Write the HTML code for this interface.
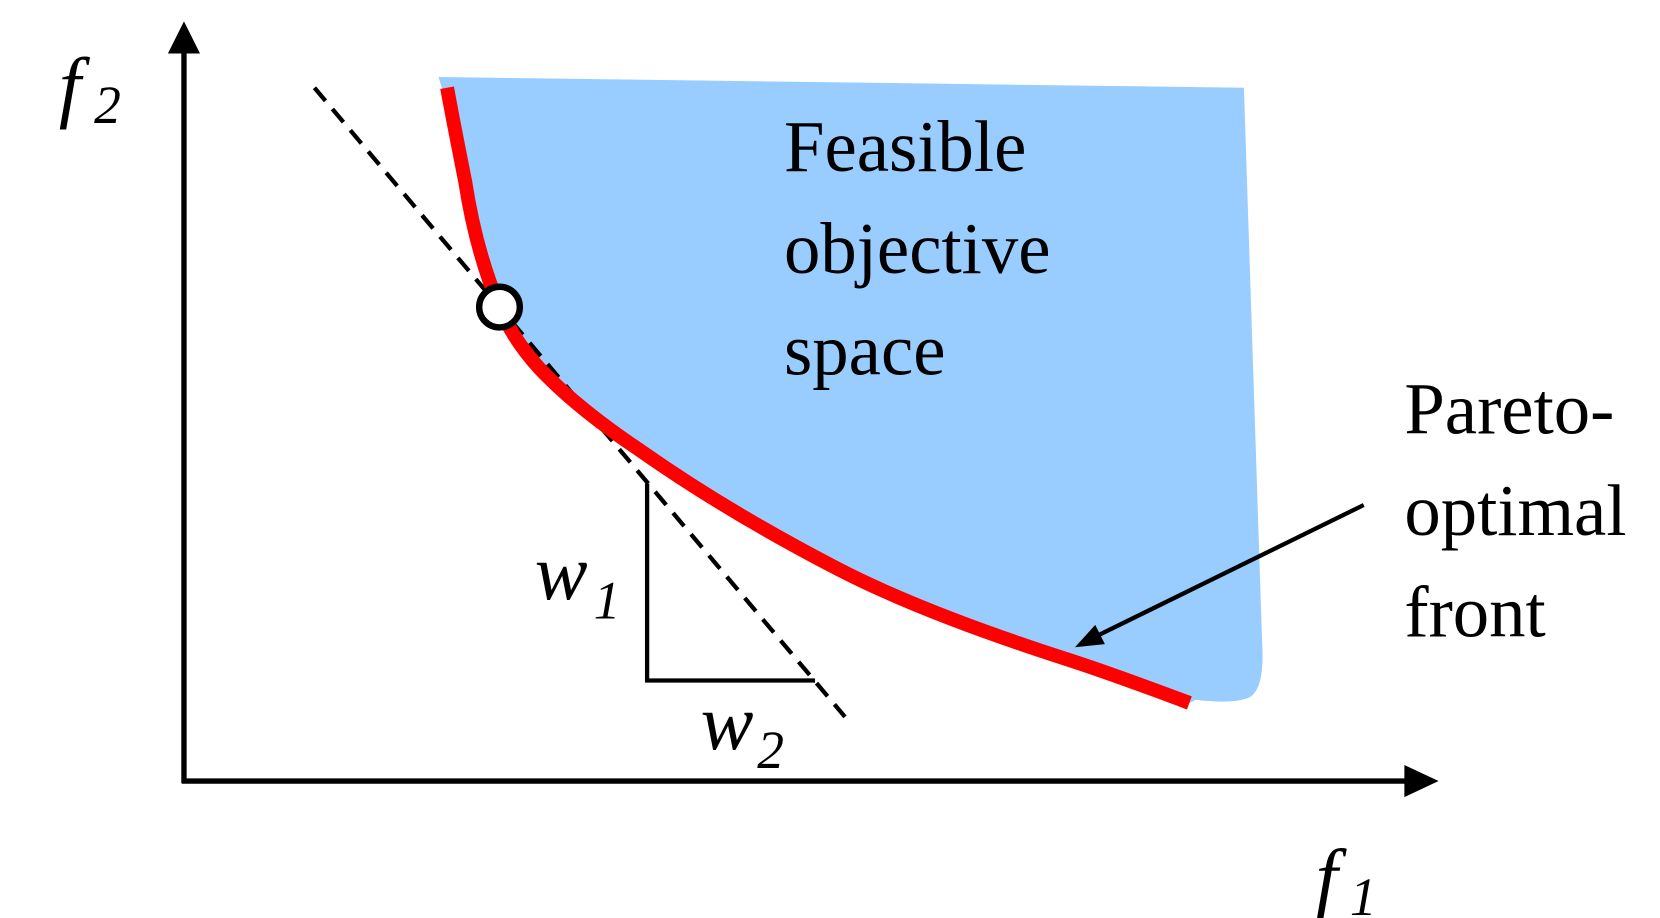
<!DOCTYPE html>
<html><head><meta charset="utf-8"><style>
html,body{margin:0;padding:0;background:#fff;width:1660px;height:918px;overflow:hidden}
svg{display:block}
text{font-family:"Liberation Serif",serif;fill:#000}
</style></head><body>
<svg width="1660" height="918" viewBox="0 0 1552 858" preserveAspectRatio="none" xmlns="http://www.w3.org/2000/svg">
<!-- feasible region -->
<path d="M410,72 L1163,82 L1180,600 Q1183,648 1165,653 Q1150,658 1118,654 L1112,657 Q1040,630 1000,617 Q860,572 780,530 Q680,478 600,422 Q540,382 505,345 Q480,318 467,287 Q445,235 435,170 Q425,120 410,72 z" fill="#99ccff"/>
<!-- dashed line -->
<line x1="294" y1="82" x2="790" y2="670" stroke="#000" stroke-width="4" stroke-dasharray="16,10"/>
<!-- red curve -->
<path d="M418,82 Q425,120 435,170 Q445,235 467,287 Q480,318 505,345 Q540,382 600,422 Q680,478 780,530 Q860,572 1000,617 Q1040,630 1112,657" fill="none" stroke="#ff0000" stroke-width="13"/>
<!-- circle -->
<circle cx="467" cy="287" r="19" fill="#fff" stroke="#000" stroke-width="6"/>
<!-- triangle -->
<path d="M605,452 L605,636 L762,636" fill="none" stroke="#000" stroke-width="4"/>
<!-- axes -->
<line x1="172" y1="732" x2="172" y2="48" stroke="#000" stroke-width="5"/>
<path d="M157,50 L172,20 L187,50 z" fill="#000"/>
<line x1="170" y1="730" x2="1316" y2="730" stroke="#000" stroke-width="5"/>
<path d="M1313,715 L1345,730 L1313,745 z" fill="#000"/>
<!-- pointer arrow -->
<line x1="1275" y1="472" x2="1012" y2="601" stroke="#000" stroke-width="4"/>
<path d="M1005,605 L1024,584 L1033,602 z" fill="#000"/>
<!-- labels -->
<text x="733" y="160" font-size="68">Feasible</text>
<text x="733" y="255" font-size="68">objective</text>
<text x="733" y="350" font-size="68">space</text>
<text x="1313" y="405" font-size="68">Pareto-</text>
<text x="1313" y="500" font-size="68">optimal</text>
<text x="1313" y="595" font-size="68">front</text>
<text x="55" y="105" font-size="74" font-style="italic">f</text>
<text x="88" y="115" font-size="50" font-style="italic">2</text>
<text x="1230" y="845" font-size="74" font-style="italic">f</text>
<text x="1262" y="855" font-size="50" font-style="italic">1</text>
<text x="500" y="560" font-size="74" font-style="italic">w</text>
<text x="555" y="578" font-size="50" font-style="italic">1</text>
<text x="655" y="700" font-size="74" font-style="italic">w</text>
<text x="708" y="718" font-size="50" font-style="italic">2</text>
</svg>
</body></html>
